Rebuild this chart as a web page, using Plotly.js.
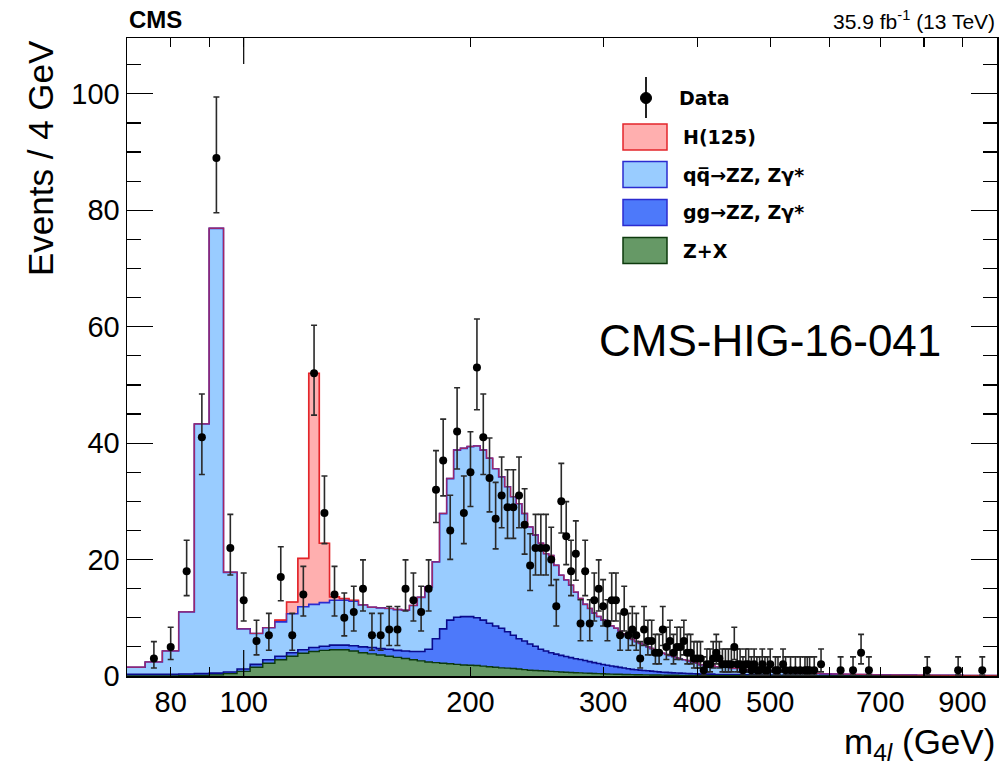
<!DOCTYPE html>
<html><head><meta charset="utf-8">
<script src="https://cdn.plot.ly/plotly-3.0.1.min.js"></script>
<style>html,body{margin:0;padding:0;background:#fff}#plot{width:1004px;height:765px}</style>
</head><body><div id="plot"></div>
<script>
// ---------------- DATA ----------------
// Binning: 4 GeV bins from 70 to 402 GeV, then 20 GeV bins up to 1002 GeV (values are events / 4 GeV)
const fineStart = 70, fineWidth = 4, fineCount = 83;
const tailWidth = 20, tailCount = 30;

// Z+X (reducible background)
const zx = [
  0,0,0,0.05,0.1,0.2,0.4,0.8,1.5,2.2,
  2.8,3.4,3.9,4.2,4.4,4.5,4.5,4.3,4.0,3.8,
  3.6,3.4,3.2,3.0,2.8,2.6,2.4,2.3,2.2,2.1,
  2.0,1.9,1.85,1.8,1.7,1.6,1.5,1.4,1.35,1.3,
  1.2,1.1,1.0,0.95,0.9,0.85,0.8,0.75,0.7,0.65,
  0.6,0.57,0.54,0.5,0.47,0.44,0.41,0.38,0.35,0.33,
  0.31,0.29,0.27,0.25,0.23,0.22,0.21,0.2,0.19,0.18,
  0.17,0.16,0.15,0.14,0.13,0.12,0.12,0.11,0.1,0.1,
  0.09,0.09,0.08,
  0.07,0.05,0.04,0.03,0.02,0.02,0.01,0.01,0.01,0.01,
  0,0,0,0,0,0,0,0,0,0, 0,0,0,0,0,0,0,0,0,0
];
// gg -> ZZ, Zgamma*
const ggZZ = [
  0.3,0.3,0.3,0.3,0.3,0.3,0.3,0.4,0.5,0.6,
  0.6,0.6,0.6,0.7,0.7,0.8,0.8,0.9,1.0,1.1,
  1.1,1.2,1.2,1.3,1.4,1.6,2.2,4.1,5.9,7.5,
  8.1,8.3,8.35,8.2,7.9,7.45,7.1,6.8,6.25,5.7,
  5.2,4.9,4.5,4.15,3.7,3.45,3.2,3.0,2.85,2.7,
  2.55,2.4,2.3,2.15,2.0,1.85,1.75,1.6,1.5,1.4,
  1.3,1.2,1.1,1.0,0.9,0.85,0.8,0.75,0.7,0.65,
  0.6,0.55,0.5,0.48,0.45,0.42,0.4,0.38,0.36,0.34,
  0.32,0.3,0.29,
  0.26,0.22,0.19,0.16,0.13,0.11,0.09,0.08,0.07,0.06,
  0.05,0.05,0.04,0.04,0.03,0.03,0.03,0.03,0.02,0.02,
  0.02,0.02,0.02,0.02,0.02,0.01,0.01,0.01,0.01,0.01
];
// qqbar -> ZZ, Zgamma*
const qqZZ = [
  1.2,2.1,4.0,10.65,42.9,76.4,17.1,6.9,5.3,5.5,
  5.9,6.7,7.4,7.4,7.5,7.7,7.7,7.65,7.2,6.9,
  7.0,7.0,7.0,7.0,7.9,9.3,10.7,13.2,19.8,24.3,
  28.7,28.9,29.2,29.5,29.2,28.35,27.0,26.0,24.9,23.8,
  23.2,21.9,20.1,19.1,18.2,16.7,16.7,15.25,13.75,13.15,
  12.45,11.43,10.46,9.65,9.13,8.51,8.04,7.62,7.15,6.87,
  6.59,6.21,5.83,5.45,5.17,4.83,4.59,4.35,4.11,3.87,
  3.63,3.44,3.25,3.08,2.92,2.76,2.58,2.46,2.34,2.21,
  2.09,1.96,1.83,
  1.57,1.33,1.07,0.86,0.70,0.57,0.50,0.41,0.34,0.30,
  0.28,0.25,0.23,0.20,0.18,0.16,0.14,0.13,0.13,0.12,
  0.11,0.10,0.09,0.08,0.08,0.08,0.08,0.07,0.07,0.06
];
// H(125)
const h125 = [
  0,0,0,0,0,0,0,0,0,0,
  0.3,2.0,8.3,39.7,10.2,0.6,0.3,0.15,0,0,
  0,0,0,0,0,0,0,0,0,0, 0,0,0,0,0,0,0,0,0,0,
  0,0,0,0,0,0,0,0,0,0, 0,0,0,0,0,0,0,0,0,0,
  0,0,0,0,0,0,0,0,0,0, 0,0,0,0,0,0,0,0,0,0,
  0,0,0,
  0,0,0,0,0,0,0,0,0,0, 0,0,0,0,0,0,0,0,0,0, 0,0,0,0,0,0,0,0,0,0
];

// Observed data: bin centre (GeV) and events
const dataMass = [76,80,84,88,92,96,100,104,108,112,116,120,124,128,132,136,140,144,148,152,
  156,160,164,168,172,176,180,184,188,192,196,200,204,208,212,216,220,224,228,232,
  236,240,244,248,252,256,260,264,268,272,276,280,284,288,292,296,300,304,308,312,
  316,320,324,328,332,336,340,344,348,352,356,360,364,368,372,376,380,384,388,392,
  396,400,404,408,412,416,420,424,428,432,436,440,444,448,452,456,460,464,468,472,
  476,480,484,488,492,496,500,508,512,520,524,532,540,548,556,560,564,572,584,620,
  644,660,676,808,888,956];
const dataCount = [3,5,18,41,89,22,13,6,7,17,7,14,52,28,14,10,11,15,7,7,
  8,8,15,13,11,15,32,37,25,42,28,35,53,41,34,27,31,29,29,31,
  26,19,22,22,22,20,12,30,24,18,21,9,18,9,13,15,12,9,13,13,
  7,11,7,8,7,3,8,6,6,4,4,8,5,6,4,5,5,6,4,4,
  3,3,3,1,2,2,3,4,3,2,2,2,2,5,2,2,1,2,2,1,
  2,1,1,2,1,1,2,1,1,2,1,1,1,1,1,1,1,1,2,1,
  1,4,1,1,1,1];

const xTickVals = [80,100,200,300,400,500,700,900];
const xMinorTickVals = [90,600,800];

// ---------------- BUILD ----------------
const edges = [];
for (let i = 0; i <= fineCount; i++) edges.push(fineStart + fineWidth * i);
const tailStart = edges[edges.length - 1];
for (let j = 1; j <= tailCount; j++) edges.push(tailStart + tailWidth * j);

const nb = zx.length;
const c1 = [], c2 = [], c3 = [], c4 = [];
for (let i = 0; i < nb; i++) {
  c1.push(zx[i]);
  c2.push(c1[i] + ggZZ[i]);
  c3.push(c2[i] + qqZZ[i]);
  c4.push(c3[i] + h125[i]);
}
const stepY = a => a.concat([a[a.length - 1]]);

// Garwood-like Poisson interval (Wilson-Hilferty approximation)
function poisLow(n) { if (n <= 0) return 0; const t = 1 - 1/(9*n) - 1/(3*Math.sqrt(n)); return n*t*t*t; }
function poisUp(n) { const m = n + 1; const t = 1 - 1/(9*m) + 1/(3*Math.sqrt(m)); return m*t*t*t; }
const errUp = dataCount.map(n => poisUp(n) - n);
const errLo = dataCount.map(n => n - poisLow(n));

const col = {
  hFill: '#ffafaf', hLine: '#e3262b',
  qqFill: '#99ccff', qqLine: '#2b2bd0',
  ggFill: '#4d79fa', ggLine: '#0a0a8c',
  zxFill: '#669966', zxLine: '#0d3a0d'
};

function stackTrace(y, fill, line, w) {
  return { x: edges, y: stepY(y), type: 'scatter', mode: 'lines',
    line: { shape: 'hv', color: line, width: w }, fill: 'tozeroy', fillcolor: fill,
    hoverinfo: 'skip', showlegend: false };
}
const traces = [
  stackTrace(c4, col.hFill, col.hLine, 1.6),
  stackTrace(c3, col.qqFill, col.qqLine, 1.6),
  stackTrace(c2, col.ggFill, col.ggLine, 1.6),
  stackTrace(c1, col.zxFill, col.zxLine, 1.4),
  { x: edges, y: stepY(c4), type: 'scatter', mode: 'lines',
    line: { shape: 'hv', color: col.hLine, width: 1 }, opacity: 0.7, hoverinfo: 'skip', showlegend: false },
  { x: dataMass, y: dataCount, type: 'scatter', mode: 'markers',
    marker: { color: '#000', size: 8 },
    error_y: { type: 'data', symmetric: false, array: errUp, arrayminus: errLo,
      color: '#2a2a2a', thickness: 1.6, width: 3 },
    showlegend: false }
];

// ---------------- LAYOUT ----------------
const L = 127, R = 7, T = 38, B = 89, W = 1004, Hh = 765;
const pw = W - L - R, ph = Hh - T - B;
const px = x => (x - L) / pw;
const py = y => (Hh - B - y) / ph;

const font = 'Liberation Sans, Arial, Helvetica, sans-serif';
const lfont = 'DejaVu Sans, Liberation Sans, sans-serif';

const shapes = [
  { type: 'line', xref: 'x', yref: 'paper', x0: 100, x1: 100, y0: 0, y1: 26/ph, line: { color: '#000', width: 1.2 } },
  { type: 'line', xref: 'x', yref: 'paper', x0: 100, x1: 100, y0: 1 - 26/ph, y1: 1, line: { color: '#000', width: 1.2 } },
  // legend: data marker
  { type: 'line', xref: 'paper', yref: 'paper', x0: px(646), x1: px(646), y0: py(77), y1: py(118), line: { color: '#222', width: 2 } },
  { type: 'circle', xref: 'paper', yref: 'paper', x0: px(640.5), x1: px(651.5), y0: py(92.5), y1: py(103.5), fillcolor: '#000', line: { color: '#000', width: 1 } }
];
const boxes = [
  [137, col.hFill, col.hLine], [174.5, col.qqFill, col.qqLine],
  [212.5, col.ggFill, col.qqLine], [250.5, col.zxFill, col.zxLine]
];
boxes.forEach(b => shapes.push({ type: 'rect', xref: 'paper', yref: 'paper',
  x0: px(623), x1: px(667), y0: py(b[0] - 13), y1: py(b[0] + 13),
  fillcolor: b[1], line: { color: b[2], width: 1.5 } }));

const legTxt = [
  ['Data', 677, 98], ['H(125)', 681, 137], ['qq\u0305\u2192ZZ, Z\u03b3*', 681, 174.5],
  ['gg\u2192ZZ, Z\u03b3*', 681, 212.5], ['Z+X', 681, 250.5]
];
const annotations = legTxt.map(t => ({ text: '<b>' + t[0] + '</b>', xref: 'paper', yref: 'paper',
  x: px(t[1]), y: py(t[2]), xanchor: 'left', yanchor: 'middle', showarrow: false,
  font: { family: lfont, size: 19, color: '#000' } }));

annotations.push(
  { text: '<b>CMS</b>', xref: 'paper', yref: 'paper', x: 0, y: py(19), xanchor: 'left', yanchor: 'middle',
    showarrow: false, font: { family: font, size: 24, color: '#000' } },
  { text: '35.9 fb<sup>-1</sup> (13 TeV)', xref: 'paper', yref: 'paper', x: 1, y: py(20), xanchor: 'right', yanchor: 'middle',
    showarrow: false, font: { family: font, size: 21, color: '#000' } },
  { text: 'CMS-HIG-16-041', xref: 'paper', yref: 'paper', x: px(770), y: py(340), xanchor: 'center', yanchor: 'middle',
    showarrow: false, font: { family: font, size: 44, color: '#000' } },
  { text: 'm<sub>4<i>l</i></sub> (GeV)', xref: 'paper', yref: 'paper', x: 1, y: py(744), xanchor: 'right', yanchor: 'middle',
    showarrow: false, font: { family: font, size: 35, color: '#000' } },
  { text: 'Events / 4 GeV', xref: 'paper', yref: 'paper', x: px(40), y: 1, xanchor: 'center', yanchor: 'top',
    textangle: -90, showarrow: false, font: { family: font, size: 35, color: '#000' } }
);

const layout = {
  width: W, height: Hh,
  margin: { l: L, r: R, t: T, b: B },
  paper_bgcolor: '#fff', plot_bgcolor: '#fff',
  showlegend: false,
  xaxis: {
    type: 'log', range: [Math.log10(70), Math.log10(1000)],
    tickmode: 'array', tickvals: xTickVals, ticktext: xTickVals.map(String),
    ticks: 'inside', ticklen: 9, tickwidth: 1.2, tickcolor: '#000',
    minor: { tickmode: 'array', tickvals: xMinorTickVals, ticks: 'inside', ticklen: 9, tickwidth: 1.2, tickcolor: '#000', showgrid: false },
    showline: true, linecolor: '#000', linewidth: 1.5, mirror: 'ticks',
    showgrid: false, zeroline: false,
    tickfont: { family: font, size: 29, color: '#000' }
  },
  yaxis: {
    range: [0, 109.6], tickmode: 'linear', tick0: 0, dtick: 20,
    ticks: 'inside', ticklen: 26, tickwidth: 1.2, tickcolor: '#000',
    minor: { tickmode: 'linear', tick0: 0, dtick: 5, ticks: 'inside', ticklen: 14, tickwidth: 1.2, tickcolor: '#000', showgrid: false },
    showline: true, linecolor: '#000', linewidth: 1.5, mirror: 'ticks',
    showgrid: false, zeroline: false,
    tickfont: { family: font, size: 29, color: '#000' }
  },
  shapes: shapes,
  annotations: annotations
};

Plotly.newPlot('plot', traces, layout, { staticPlot: true, displayModeBar: false });
</script>
</body></html>
